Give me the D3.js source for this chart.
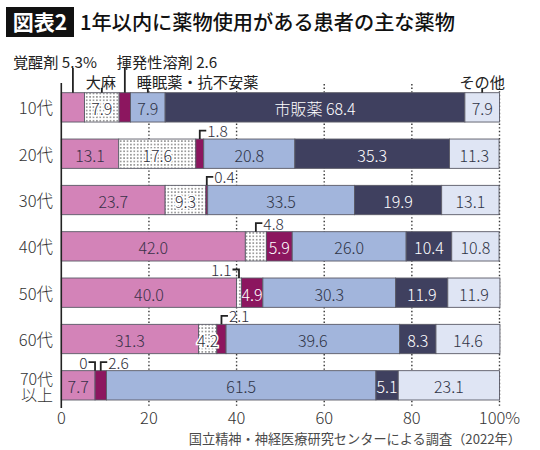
<!DOCTYPE html>
<html>
<head>
<meta charset="utf-8">
<script src="https://cdn.jsdelivr.net/npm/d3@7"></script>
<style>
  body { margin: 0; background: #fff; }
  svg { display: block; font-family: "Noto Sans CJK JP", "Noto Sans", sans-serif; }
</style>
</head>
<body>
<div id="chart"></div>
<script>
// age groups (rows) and drug categories (stacked segments)
const ages = ["10代", "20代", "30代", "40代", "50代", "60代", "70代以上"];
const drugs = ["覚醒剤", "大麻", "揮発性溶剤", "睡眠薬・抗不安薬", "市販薬", "その他"];

// percent per age group
const stimulant = [5.3, 13.1, 23.7, 42.0, 40.0, 31.3, 7.7];
const cannabis  = [7.9, 17.6, 9.3, 4.8, 1.1, 4.2, 0];
const solvent   = [2.6, 1.8, 0.4, 5.9, 4.9, 2.1, 2.6];
const sedative  = [7.9, 20.8, 33.5, 26.0, 30.3, 39.6, 61.5];
const otc       = [68.4, 35.3, 19.9, 10.4, 11.9, 8.3, 5.1];
const other     = [7.9, 11.3, 13.1, 10.8, 11.9, 14.6, 23.1];

const xTicks = [0, 20, 40, 60, 80, 100];

// small values labelled outside the bar with a bracket line
const callouts = [
    ["20代", "揮発性溶剤", "right"],
    ["30代", "揮発性溶剤", "right"],
    ["40代", "大麻", "right"],
    ["50代", "大麻", "left"],
    ["60代", "揮発性溶剤", "right"],
    ["70代以上", "大麻", "left"],
    ["70代以上", "揮発性溶剤", "right"]
];

// category names written above the first row
const headers = [
    {drug: "覚醒剤", text: "覚醒剤 5.3%", level: 1, anchor: "start", dx: -60},
    {drug: "大麻", text: "大麻", level: 2, anchor: "middle", dx: -1},
    {drug: "揮発性溶剤", text: "揮発性溶剤 2.6", level: 1, anchor: "start", dx: -8},
    {drug: "睡眠薬・抗不安薬", text: "睡眠薬・抗不安薬", level: 2, anchor: "start", dx: -11},
    {drug: "その他", text: "その他", level: 2, anchor: "middle", dx: 0}
];

const colors = ["#d383b8", "url(#dots)", "#8c165f", "#a2b5dc", "#3f405f", "#dfe5f4"];
const textColors = ["#3a3148", "#2e2e3a", "#fff", "#2f3446", "#fff", "#2f3446"];

const series = [stimulant, cannabis, solvent, sedative, otc, other];
const table = ages.map((a, i) => {
    let row = {age: a};
    drugs.forEach((d, j) => row[d] = series[j][i]);
    return row;
});

const W = 540, H = 450;
const svg = d3.select("#chart").append("svg")
    .attr("width", W)
    .attr("height", H);

svg.append("rect").attr("width", W).attr("height", H).attr("fill", "#fff");

// dot pattern for cannabis
const pat = svg.append("defs").append("pattern")
    .attr("id", "dots")
    .attr("patternUnits", "userSpaceOnUse")
    .attr("width", 3.4)
    .attr("height", 3.4);
pat.append("rect").attr("width", 3.4).attr("height", 3.4).attr("fill", "#fff");
pat.append("circle").attr("cx", 1.7).attr("cy", 1.7).attr("r", 0.7).attr("fill", "#1e1e1e");

// title
svg.append("rect")
    .attr("x", 6).attr("y", 7)
    .attr("width", 68).attr("height", 30)
    .attr("fill", "#111");
svg.append("text")
    .attr("x", 40).attr("y", 30)
    .attr("text-anchor", "middle")
    .attr("fill", "#fff")
    .attr("font-size", 21)
    .attr("font-weight", 700)
    .text("図表2");
svg.append("text")
    .attr("x", 80).attr("y", 30)
    .attr("fill", "#111")
    .attr("font-size", 20.2)
    .attr("font-weight", 500)
    .text("1年以内に薬物使用がある患者の主な薬物");

// scales
const x = d3.scaleLinear().domain([0, 100]).range([61.3, 499.5]);
const y = d3.scaleBand().domain(ages).range([84.2, 408.5])
    .paddingInner(0.367).paddingOuter(0.1835);

// dotted grid
svg.append("g").selectAll("line")
    .data(xTicks.slice(1))
    .join("line")
    .attr("x1", d => x(d)).attr("x2", d => x(d))
    .attr("y1", 84).attr("y2", 408)
    .attr("stroke", "#333")
    .attr("stroke-width", 1.4)
    .attr("stroke-dasharray", "1.4,2.2");

// stacked bars
const stacked = d3.stack().keys(drugs)(table);

const layers = svg.append("g").selectAll("g")
    .data(stacked)
    .join("g")
    .attr("fill", (d, i) => colors[i]);

layers.selectAll("rect")
    .data(d => d.map(s => Object.assign(s, {key: d.key})))
    .join("rect")
    .attr("x", d => x(d[0]))
    .attr("y", d => y(d.data.age))
    .attr("width", d => x(d[1]) - x(d[0]))
    .attr("height", y.bandwidth())
    .attr("stroke", "#5a5a66")
    .attr("stroke-width", 0.9);

// y axis line
svg.append("line")
    .attr("x1", x(0)).attr("x2", x(0))
    .attr("y1", 83).attr("y2", 408)
    .attr("stroke", "#222")
    .attr("stroke-width", 1.6);

// x tick labels
svg.append("g").selectAll("text")
    .data(xTicks)
    .join("text")
    .attr("x", d => x(d))
    .attr("y", 424)
    .attr("text-anchor", "middle")
    .attr("fill", "#333")
    .attr("font-size", 16.5)
    .attr("font-weight", 300)
    .text(d => d === 100 ? "100%" : d);

// row labels
svg.append("g").selectAll("text")
    .data(ages.filter(d => d !== "70代以上"))
    .join("text")
    .attr("x", 53)
    .attr("y", d => y(d) + y.bandwidth() / 2)
    .attr("text-anchor", "end")
    .attr("dominant-baseline", "central")
    .attr("fill", "#333")
    .attr("font-size", 16.5)
    .attr("font-weight", 300)
    .text(d => d);

// last row label on two lines
const lastAge = ages[ages.length - 1];
svg.append("g").selectAll("text")
    .data(["70代", "以上"])
    .join("text")
    .attr("x", 53)
    .attr("y", (d, i) => y(lastAge) + y.bandwidth() / 2 + (i === 0 ? -7.5 : 9))
    .attr("text-anchor", "end")
    .attr("dominant-baseline", "central")
    .attr("fill", "#333")
    .attr("font-size", 16)
    .attr("font-weight", 300)
    .text(d => d);

// labels inside segments
const isCallout = d => callouts.some(c => c[0] === d.data.age && c[1] === d.key);
const isHeader = d => d.data.age === ages[0] && (d.key === "覚醒剤" || d.key === "揮発性溶剤");

stacked.forEach((layer, i) => {
    svg.append("g").selectAll("text")
        .data(layer.filter(d => !isCallout(d) && !isHeader(d)))
        .join("text")
        .attr("x", d => (x(d[0]) + x(d[1])) / 2)
        .attr("y", d => y(d.data.age) + y.bandwidth() / 2 + 1)
        .attr("text-anchor", "middle")
        .attr("dominant-baseline", "central")
        .attr("font-size", 16)
        .attr("font-weight", 300)
        .attr("fill", textColors[i])
        .attr("stroke", i === 1 ? "#fff" : "none")
        .attr("stroke-width", i === 1 ? 3 : 0)
        .attr("paint-order", "stroke")
        .text(d => {
            let v = d.data[d.key].toFixed(1);
            return (d.data.age === ages[0] && d.key === "市販薬") ? "市販薬 " + v : v;
        });
});

// bracket callouts
const cg = svg.append("g");
callouts.forEach(c => {
    let j = drugs.indexOf(c[1]);
    let seg = stacked[j].find(d => d.data.age === c[0]);
    let cx = (x(seg[0]) + x(seg[1])) / 2;
    let top = y(c[0]);
    let cy = top - 8.5;
    let dir = c[2] === "right" ? 1 : -1;
    cg.append("path")
        .attr("d", `M${cx},${top} V${cy} H${cx + dir * 6.5}`)
        .attr("fill", "none")
        .attr("stroke", "#222")
        .attr("stroke-width", 1.8);
    let v = seg.data[c[1]];
    cg.append("text")
        .attr("x", cx + dir * 7.5)
        .attr("y", cy - 0.5)
        .attr("text-anchor", dir > 0 ? "start" : "end")
        .attr("dominant-baseline", "central")
        .attr("font-size", 15.5)
        .attr("font-weight", 300)
        .attr("fill", "#2e2e3a")
        .text(v === 0 ? "0" : v.toFixed(1));
});

// headers above first row
const hg = svg.append("g");
headers.forEach(h => {
    let j = drugs.indexOf(h.drug);
    let seg = stacked[j].find(d => d.data.age === ages[0]);
    let cx = (x(seg[0]) + x(seg[1])) / 2;
    let top = y(ages[0]);
    let ty = h.level === 1 ? 60.5 : 80.5;
    hg.append("line")
        .attr("x1", cx).attr("x2", cx)
        .attr("y1", ty + 7.5).attr("y2", top)
        .attr("stroke", "#222")
        .attr("stroke-width", 1.8);
    hg.append("text")
        .attr("x", cx + h.dx)
        .attr("y", ty)
        .attr("text-anchor", h.anchor)
        .attr("dominant-baseline", "central")
        .attr("font-size", 15.2)
        .attr("font-weight", 400)
        .attr("fill", "#222")
        .text(h.text);
});

// source note
svg.append("text")
    .attr("x", 521)
    .attr("y", 438)
    .attr("text-anchor", "end")
    .attr("dominant-baseline", "central")
    .attr("font-size", 13.2)
    .attr("fill", "#4a4a4a")
    .text("国立精神・神経医療研究センターによる調査（2022年）");
</script>
</body>
</html>
